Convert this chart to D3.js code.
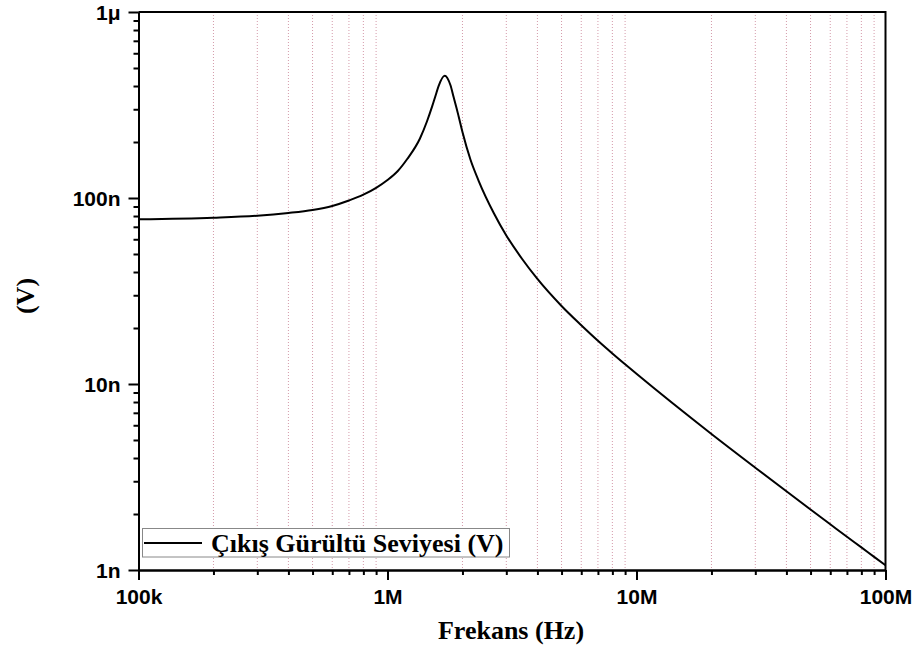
<!DOCTYPE html>
<html>
<head>
<meta charset="utf-8">
<script src="https://cdn.jsdelivr.net/npm/d3@7"></script>
<style>
  html, body { margin: 0; padding: 0; background: #fff; }
  svg { display: block; }
</style>
</head>
<body>
<svg id="chart" width="916" height="661"></svg>
<script>
// Output noise level vs frequency (log-log)
const freqHz = [1e5, 2e5, 3e5, 4e5, 5e5, 6e5, 7e5, 8e5, 9e5, 1e6, 1.1e6, 1.2e6,
  1.35e6, 1.44e6, 1.51e6, 1.56e6, 1.605e6, 1.697e6, 1.789e6, 1.845e6, 1.891e6, 1.931e6,
  2e6, 2.153e6, 2.325e6, 2.671e6, 3e6, 3.474e6, 4e6, 5e6, 6e6, 7e6, 8e6, 9e6, 1e7,
  2e7, 3e7, 4e7, 5e7, 6e7, 7e7, 8e7, 9e7, 1e8];
const noiseNV = [76.8, 78.35, 80.3, 83.07, 86.2, 90.6, 96.95, 104.2, 113.45, 125.0, 139.7, 162.0,
  208.9, 257.8, 309.7, 355.7, 401.1, 454.5, 405, 347.0, 306.6, 274.3,
  226.4, 161.0, 123.4, 83.07, 62.86, 46.98, 36.69, 26.26, 20.69, 17.07, 14.59, 12.76, 11.34,
  5.385, 3.548, 2.649, 2.115, 1.761, 1.508, 1.323, 1.176, 1.060];

const xMajor = [1e5, 1e6, 1e7, 1e8];
const xMajorLabels = ["100k", "1M", "10M", "100M"];
const yMajor = [1, 10, 100, 1000];
const yMajorLabels = ["1n", "10n", "100n", "1μ"];

const seriesName = "Çıkış Gürültü Seviyesi (V)";
const xTitle = "Frekans (Hz)";
const yTitle = "(V)";

const svg = d3.select("#chart");
const L = 138.5, R = 885.5, T = 12, B = 570;

const x = d3.scaleLog().domain([1e5, 1e8]).range([L, R]);
const y = d3.scaleLog().domain([1, 1000]).range([B, T]);

// minor tick positions: 2..9 within each decade
function minors(major) {
  const out = [];
  for (let i = 0; i < major.length - 1; i++)
    for (let k = 2; k <= 9; k++) out.push(major[i] * k);
  return out;
}
const xMinor = minors(xMajor);
const yMinor = minors(yMajor);

// vertical dotted grid at minor frequencies
svg.append("g").selectAll("line").data(xMinor).join("line")
  .attr("x1", d => x(d)).attr("x2", d => x(d))
  .attr("y1", T).attr("y2", B)
  .attr("stroke", "#d49aaa").attr("stroke-width", 1)
  .attr("stroke-dasharray", "1,2");

// frame top & right
svg.append("path")
  .attr("d", `M${L},${T}H${R}V${B}`)
  .attr("fill", "none").attr("stroke", "#000").attr("stroke-width", 2);

const tickFont = "bold 21px 'Liberation Sans', Arial, sans-serif";

// x axis
const gxMinor = svg.append("g").attr("transform", `translate(0,${B})`)
  .call(d3.axisBottom(x).tickValues(xMinor).tickFormat("").tickSizeInner(5).tickSizeOuter(0));
const gx = svg.append("g").attr("transform", `translate(0,${B})`)
  .call(d3.axisBottom(x).tickValues(xMajor).tickFormat((d, i) => xMajorLabels[i])
    .tickSizeInner(10).tickSizeOuter(0));

// y axis
const gyMinor = svg.append("g").attr("transform", `translate(${L},0)`)
  .call(d3.axisLeft(y).tickValues(yMinor).tickFormat("").tickSizeInner(5).tickSizeOuter(0));
const gy = svg.append("g").attr("transform", `translate(${L},0)`)
  .call(d3.axisLeft(y).tickValues(yMajor).tickFormat((d, i) => yMajorLabels[i])
    .tickSizeInner(10).tickSizeOuter(0).tickPadding(8));

[gxMinor, gx, gyMinor, gy].forEach(g => {
  g.select(".domain").attr("stroke", "#000").attr("stroke-width", 2);
  g.selectAll(".tick line").attr("stroke", "#000").attr("stroke-width", 2);
});
gx.selectAll(".tick text").style("font", tickFont).attr("fill", "#000").attr("dy", null).attr("y", 34);
gy.selectAll(".tick text").style("font", tickFont).attr("fill", "#000").attr("dy", null).attr("y", 7.5);

// curve
const line = d3.line()
  .x((d, i) => x(freqHz[i]))
  .y(d => y(d))
  .curve(d3.curveMonotoneX);
svg.append("path")
  .datum(noiseNV)
  .attr("d", line)
  .attr("fill", "none").attr("stroke", "#000").attr("stroke-width", 2)
  .attr("stroke-linejoin", "round");

// axis titles
const titleFont = "bold 26px 'Liberation Serif', 'Times New Roman', serif";
svg.append("text").attr("x", 511).attr("y", 639).attr("text-anchor", "middle")
  .style("font", titleFont).text(xTitle);
svg.append("text").attr("transform", "translate(34,296) rotate(-90)").attr("text-anchor", "middle")
  .style("font", titleFont).text(yTitle);

// legend
const lg = svg.append("g");
lg.append("rect").attr("x", 142.5).attr("y", 528.5).attr("width", 367).attr("height", 28.5)
  .attr("fill", "#fff").attr("stroke", "#888").attr("stroke-width", 1);
lg.append("line").attr("x1", 144).attr("x2", 202).attr("y1", 543).attr("y2", 543)
  .attr("stroke", "#000").attr("stroke-width", 2);
lg.append("text").attr("x", 211).attr("y", 551.5)
  .style("font", "bold 26px 'Liberation Serif', 'Times New Roman', serif").text(seriesName);
</script>
</body>
</html>
